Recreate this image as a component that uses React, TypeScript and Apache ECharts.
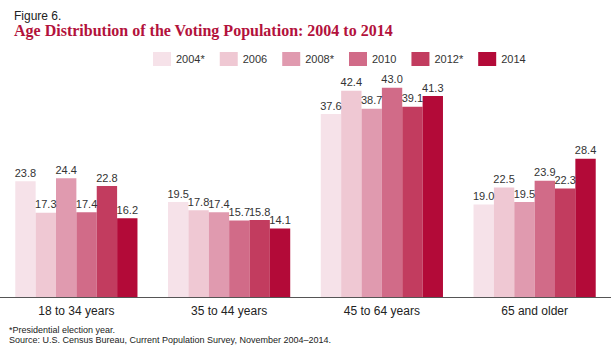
import React, { useEffect, useRef } from "react";
import * as echarts from "echarts";

const categories = ["18 to 34 years", "35 to 44 years", "45 to 64 years", "65 and older"];
const seriesNames = ["2004*", "2006", "2008*", "2010", "2012*", "2014"];
const v2004 = [23.8, 19.5, 37.6, 19.0];
const v2006 = [17.3, 17.8, 42.4, 22.5];
const v2008 = [24.4, 17.4, 38.7, 19.5];
const v2010 = [17.4, 15.7, 43.0, 23.9];
const v2012 = [22.8, 15.8, 39.1, 22.3];
const v2014 = [16.2, 14.1, 41.3, 28.4];
const colors = ["#f6e2e9", "#efc8d3", "#e09aaf", "#d16b88", "#c23c5f", "#b30a38"];

export default function App() {
  const ref = useRef<HTMLDivElement>(null);
  useEffect(() => {
    if (!ref.current) return;
    const chart = echarts.init(ref.current, null, { renderer: "svg" });
    const allValues = [v2004, v2006, v2008, v2010, v2012, v2014];
    const font = "'Liberation Sans', Arial, sans-serif";
    chart.setOption({
      animation: false,
      backgroundColor: "#ffffff",
      title: [
        {
          text: "Figure 6.",
          left: 9,
          top: 5,
          textStyle: { fontFamily: font, fontSize: 12, fontWeight: "normal", color: "#222" },
        },
        {
          text: "Age Distribution of the Voting Population: 2004 to 2014",
          left: 9,
          top: 17,
          textStyle: { fontFamily: "'Liberation Serif', serif", fontSize: 16, fontWeight: "bold", color: "#b3123c" },
        },
      ],
      legend: {
        left: 148,
        top: 47,
        itemWidth: 18,
        itemHeight: 14,
        itemGap: 15,
        icon: "rect",
        textStyle: { fontFamily: font, fontSize: 11, color: "#333" },
        data: seriesNames,
      },
      grid: { left: -2, top: 78, width: 620, height: 219, containLabel: false },
      xAxis: {
        type: "category",
        data: categories,
        axisLine: { lineStyle: { color: "#555", width: 1 } },
        axisTick: { show: false },
        axisLabel: { fontFamily: font, fontSize: 12, color: "#222", margin: 8 },
      },
      yAxis: {
        type: "value",
        min: 0,
        max: 45,
        show: false,
        splitLine: { show: false },
      },
      graphic: [
        {
          type: "text",
          left: 9,
          top: 325,
          style: { text: "*Presidential election year.", fontFamily: font, fontSize: 9, fill: "#222" },
        },
        {
          type: "text",
          left: 9,
          top: 335,
          style: {
            text: "Source: U.S. Census Bureau, Current Population Survey, November 2004\u20132014.",
            fontFamily: font,
            fontSize: 9,
            fill: "#222",
          },
        },
      ],
      series: seriesNames.map((name, i) => ({
        name,
        type: "bar",
        data: allValues[i],
        barGap: "0%",
        barCategoryGap: "20%",
        itemStyle: { color: colors[i] },
        label: {
          show: true,
          position: "top",
          distance: 3,
          formatter: (p: any) => Number(p.value).toFixed(1),
          fontFamily: font,
          fontSize: 11,
          color: "#333",
        },
      })),
    });
    return () => chart.dispose();
  }, []);
  return <div ref={ref} style={{ position: "absolute", left: 0, top: 0, width: 611, height: 347 }} />;
}
